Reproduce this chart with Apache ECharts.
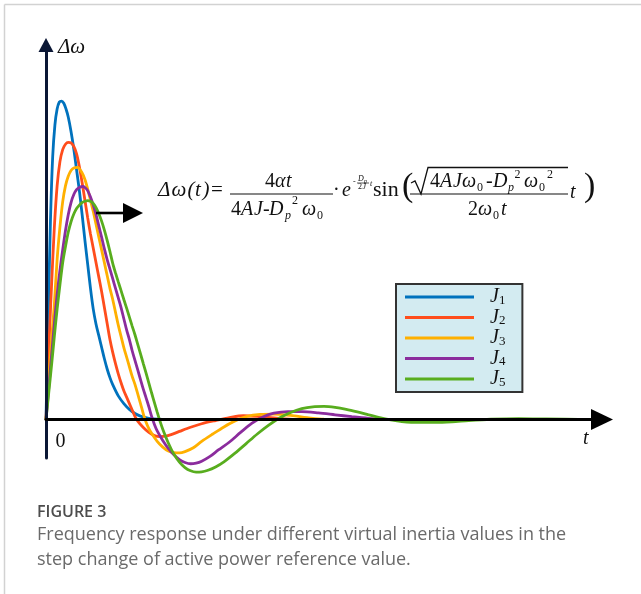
<!DOCTYPE html>
<html>
<head>
<meta charset="utf-8">
<script src="https://cdn.jsdelivr.net/npm/echarts@6/dist/echarts.min.js"></script>
<style>
  html, body { margin: 0; padding: 0; background: #ffffff; }
  #chart { width: 641px; height: 594px; }
</style>
</head>
<body>
<div id="chart"></div>
<script>
// Frequency deviation Δω(t) after a step in active power reference,
// one curve per virtual inertia value J1 < J2 < ... < J5.
const seriesNames = ['J1', 'J2', 'J3', 'J4', 'J5'];
const curveColors = ['#0072bd', '#ff4d1c', '#ffb000', '#8b2c9d', '#58ad1e'];

// [t, Δω] samples (arbitrary units)
const curveJ1 = [[0,0],[0.4,32],[0.8,62],[1.2,82],[1.6,92],[2.0,97],[2.4,99.2],[2.8,99.5],[3.2,98.8],[3.6,97],[4,94.5],[4.5,90],[5,84.5],[5.5,78],[6,71.5],[6.5,64],[7,56],[7.5,48.5],[8,41],[8.5,34.5],[9,29.8],[9.5,26.2],[10,22.6],[10.5,19],[11,15.8],[11.5,13.1],[12,10.9],[13,7.4],[14,5],[15,3.2],[16,1.9],[17,1.1],[18.5,0.4],[20,0.1],[22,0],[98,0]];
const curveJ2 = [[0,0],[0.5,22],[1,42],[1.5,60],[2,73],[2.5,80.5],[3,84.3],[3.5,86],[4,86.6],[4.5,86.4],[5,85.3],[5.5,83],[6,79],[6.5,74],[7,68.5],[7.5,63],[8,58],[8.5,53.5],[9,49],[9.5,44.5],[10,40],[10.5,35],[11,30],[11.5,25],[12,21],[12.5,17.5],[13,14.3],[13.5,11.5],[14,9],[14.5,7],[15,5],[15.5,3],[16,1],[16.5,-0.5],[17.5,-2.5],[18.5,-4],[19.5,-5],[20.5,-5.3],[21.5,-5.2],[22.5,-4.7],[24,-3.7],[26,-2.4],[28,-1.3],[30.5,-0.3],[33,0.6],[35.5,1.2],[38,1.0],[41,0.5],[45,0],[98,0]];
const curveJ3 = [[0,0],[0.5,13],[1,25],[1.5,36],[2,50],[2.5,60],[3,68],[3.5,73],[4,76],[4.5,77.8],[5,78.6],[5.7,78.8],[6.5,77],[7,75],[7.5,72],[8,68.5],[8.5,65],[9,61],[9.5,57],[10,53],[10.5,49],[11,45],[11.5,41],[12,37.5],[12.5,33.5],[13,29.5],[13.5,26],[14,22.5],[14.5,19.5],[15,16.5],[15.5,13.5],[16,11],[16.5,8],[17,5],[17.5,1.8],[18,-0.8],[18.5,-2.8],[19,-4.3],[20,-6.8],[21,-8.6],[22,-9.8],[23,-10.3],[24,-10.4],[25,-10],[26.5,-8.8],[28,-6.8],[30,-4.5],[32,-2.3],[34,-0.4],[36,0.9],[38.5,1.6],[41,1.7],[44,1.3],[47,0.6],[50,0.1],[98,0]];
const curveJ4 = [[0,0],[0.5,10],[1,20],[1.5,30],[2,39],[2.5,46.5],[3,53],[3.5,59],[4,64],[4.5,67.8],[5,70.3],[5.5,71.8],[6,72.5],[6.6,72.8],[7,72.5],[7.5,71.5],[8,69.5],[8.5,67],[9,64],[9.5,60.5],[10,57],[10.5,53.3],[11,50],[11.5,47],[12,44],[12.5,41],[13,38],[13.5,35],[14,31.5],[14.5,28],[15,25],[15.5,21.5],[16,18.5],[16.5,15.5],[17,12.5],[17.5,9.5],[18,6.8],[18.5,4],[19,1],[19.5,-1.5],[20,-3.5],[21,-6.5],[22,-9],[23,-11],[24,-12.5],[25,-13.4],[26,-13.8],[27,-13.6],[28,-13],[29.5,-11.5],[31,-9.5],[33,-7],[35,-4],[37,-1.2],[39,0.8],[41,2],[43.5,2.5],[46,2.5],[49,2.1],[52,1.5],[55,0.9],[58,0.4],[62,0],[98,0]];
const curveJ5 = [[0,0],[0.5,8.5],[1,17],[1.5,26],[2,34.5],[2.5,42],[3,49],[3.5,54],[4,58.5],[4.5,61.8],[5,64.2],[5.5,65.9],[6,67],[6.5,67.8],[7,68.2],[7.5,68.4],[8,68.2],[8.5,67.5],[9,66.2],[9.5,64.3],[10,62],[10.5,59.2],[11,56],[11.5,52.5],[12,48.8],[12.5,45.8],[13,43],[13.5,40.3],[14,37.5],[14.5,34.8],[15,32],[15.5,29.2],[16,26.5],[16.5,23.5],[17,20.5],[17.5,17.5],[18,14.5],[18.5,11.4],[19,8.3],[19.5,5.3],[20,2.3],[20.5,-0.5],[21,-3],[22,-7.3],[23,-10.8],[24,-13.3],[25,-15],[26,-16],[27,-16.4],[28,-16.3],[29,-15.9],[30.5,-14.8],[32,-13.2],[34,-10.5],[36,-7.5],[38,-4.5],[40,-1.8],[42,0.5],[44,2.2],[46,3.4],[48,4],[50,4.1],[52,3.8],[54,3.2],[56,2.4],[58,1.5],[60,0.6],[62,-0.1],[64,-0.6],[67,-0.9],[70,-0.9],[73,-0.7],[76,-0.3],[80,0.1],[85,0.3],[90,0.2],[98,0]];
const curves = [curveJ1, curveJ2, curveJ3, curveJ4, curveJ5];

const captionTitle = 'FIGURE 3';
const captionLines = [
  'Frequency response under different virtual inertia values in the',
  'step change of active power reference value.'
];

const SERIF = 'Liberation Serif';
const INK = '#111111';

// one glyph run of the formula, placed by its left edge and baseline
function glyph(text, x, base, size, italic) {
  return {
    type: 'text', x: x, y: base - size * 0.32, silent: true, z: 20,
    style: {
      text: text, fontFamily: SERIF, fontSize: size,
      fontStyle: italic ? 'italic' : 'normal',
      fill: INK, align: 'left', verticalAlign: 'middle'
    }
  };
}
function rule(x1, y1, x2, y2, w, color) {
  return { type: 'line', silent: true, z: 20,
    shape: { x1: x1, y1: y1, x2: x2, y2: y2 },
    style: { stroke: color || INK, lineWidth: w } };
}

const formula = [
  // Δω(t)=
  glyph('Δ', 158, 197, 21, true), glyph('ω', 171.5, 197, 21, true),
  glyph('(', 187.5, 197, 21, true), glyph('t', 195, 197, 21, true),
  glyph(')', 202.5, 197, 21, true), glyph('=', 211, 197, 21, false),
  // 4αt / (4AJ - Dp² ω0)
  glyph('4', 265, 188, 20, false), glyph('α', 275, 188, 20, true), glyph('t', 286, 188, 20, true),
  rule(230, 194, 333, 194, 1.2),
  glyph('4', 231, 216, 20, false), glyph('A', 241, 216, 20, true), glyph('J', 254, 216, 20, true),
  glyph('-', 263, 216, 20, false), glyph('D', 269, 216, 20, true),
  glyph('p', 285, 220, 12, true), glyph('2', 292, 205, 12, false),
  glyph('ω', 302, 216, 20, true), glyph('0', 317, 220, 12, false),
  // · e^(-Dp/2J t)
  glyph('·', 333, 197, 20, false), glyph('e', 342, 197, 20, true),
  glyph('-', 353, 184, 8, false),
  glyph('D', 358, 181, 8, true), glyph('p', 364, 183, 6, true),
  rule(357, 183, 369, 183, 0.7),
  glyph('2', 358, 189.5, 8, false), glyph('J', 362.5, 189.5, 8, true),
  glyph('t', 370, 186, 8, true),
  // sin( √(4AJω0 - Dp²ω0²) / (2ω0 t) t )
  glyph('sin', 373, 197, 22, false),
  glyph('(', 402, 198, 34, false),
  { type: 'polyline', silent: true, z: 20,
    shape: { points: [[411, 183], [415, 181], [421, 194], [428, 167.5], [568, 167.5]] },
    style: { stroke: INK, lineWidth: 1.3, fill: null } },
  glyph('4', 430, 188, 20, false), glyph('A', 440, 188, 20, true), glyph('J', 453, 188, 20, true),
  glyph('ω', 462, 188, 20, true), glyph('0', 477, 192, 12, false),
  glyph('-', 486, 188, 20, false), glyph('D', 493, 188, 20, true),
  glyph('p', 508, 192, 12, true), glyph('2', 514.5, 179, 12, false),
  glyph('ω', 524, 188, 20, true), glyph('0', 539, 192, 12, false), glyph('2', 547, 179, 12, false),
  rule(410, 194, 568, 194, 1.2),
  glyph('2', 468, 216, 20, false), glyph('ω', 478, 216, 20, true),
  glyph('0', 493, 220, 12, false), glyph('t', 501, 216, 20, true),
  glyph('t', 570, 199, 20, true),
  glyph(')', 584, 198, 34, false)
];

const pointer = [
  rule(96, 213, 125, 213, 2.6, '#000'),
  { type: 'polygon', silent: true, z: 20,
    shape: { points: [[123, 203], [143, 213], [123, 223]] },
    style: { fill: '#000' } }
];

const axisText = [
  glyph('Δω', 58, 54, 21, true),
  glyph('0', 55.5, 448, 20, false),
  glyph('t', 583, 445, 20, true)
];

const frame = [
  rule(4.5, 4.5, 641, 4.5, 1.5, '#d2d2d2'),
  rule(4.5, 4.5, 4.5, 594, 1.5, '#d2d2d2')
];

const caption = [
  { type: 'text', x: 37, y: 512, silent: true,
    style: { text: captionTitle, fontFamily: 'Open Sans', fontWeight: 600, fontSize: 16,
      fill: '#4d4d4d', align: 'left', verticalAlign: 'middle' } },
  { type: 'text', x: 37, y: 535, silent: true,
    style: { text: captionLines[0], fontFamily: 'Open Sans', fontSize: 18,
      fill: '#6a6a6a', align: 'left', verticalAlign: 'middle' } },
  { type: 'text', x: 37, y: 560, silent: true,
    style: { text: captionLines[1], fontFamily: 'Open Sans', fontSize: 18,
      fill: '#6a6a6a', align: 'left', verticalAlign: 'middle' } }
];

const chart = echarts.init(document.getElementById('chart'), null, { renderer: 'canvas' });
chart.setOption({
  animation: false,
  backgroundColor: '#ffffff',
  grid: { left: 46, right: 39, top: 45, bottom: 136, containLabel: false },
  xAxis: {
    type: 'value', min: 0, max: 100, z: 5,
    axisLine: { show: true, onZero: true, symbol: ['none', 'triangle'], symbolSize: [21, 22],
      lineStyle: { color: '#000000', width: 3 } },
    axisTick: { show: false }, axisLabel: { show: false }, splitLine: { show: false }
  },
  yAxis: {
    type: 'value', min: -12, max: 117, z: 5,
    axisLine: { show: true, onZero: true, symbol: ['none', 'triangle'], symbolSize: [15, 14],
      lineStyle: { color: '#0b1735', width: 3 } },
    axisTick: { show: false }, axisLabel: { show: false }, splitLine: { show: false }
  },
  legend: {
    data: seriesNames, orient: 'vertical', left: 396, top: 284,
    icon: 'rect', itemWidth: 69, itemHeight: 3, itemGap: 0.5,
    padding: [3, 17, 3, 9],
    backgroundColor: '#d3ebf1', borderColor: '#333333', borderWidth: 2, borderRadius: 0,
    selectedMode: false,
    formatter: function (name) { return '{j|J}{s|' + name.slice(1) + '}'; },
    textStyle: {
      color: INK,
      rich: {
        j: { fontFamily: SERIF, fontStyle: 'italic', fontSize: 20, lineHeight: 20,
             verticalAlign: 'middle', padding: [0, 0, 0, 11], color: INK },
        s: { fontFamily: SERIF, fontSize: 13, lineHeight: 13, padding: [7, 0, 0, 0],
             verticalAlign: 'middle', color: INK }
      }
    }
  },
  series: seriesNames.map(function (name, i) {
    return {
      name: name, type: 'line', data: curves[i],
      smooth: 0.3, showSymbol: false, symbol: 'none', z: 3, clip: false,
      color: curveColors[i],
      lineStyle: { color: curveColors[i], width: 2.8 }
    };
  }),
  graphic: [].concat(frame, formula, pointer, axisText, caption)
});
</script>
</body>
</html>
